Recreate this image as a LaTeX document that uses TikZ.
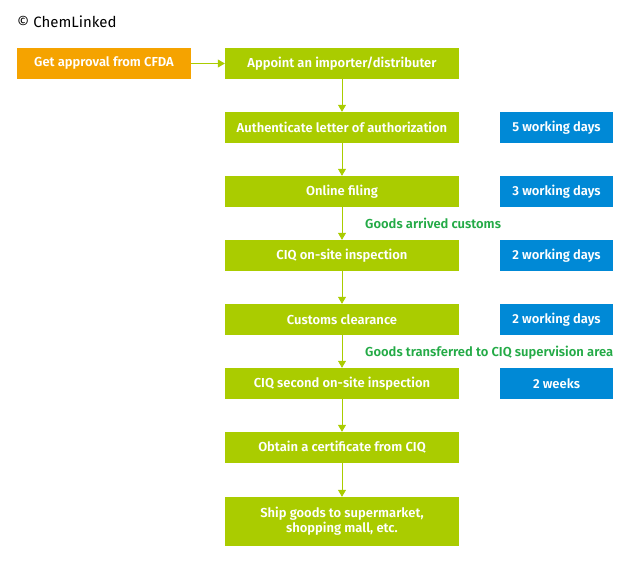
\documentclass[tikz,border=0pt]{standalone}
\usepackage{fontspec}
\setmainfont{Fira Sans}[BoldFont={Fira Sans SemiBold}]
\usetikzlibrary{arrows.meta}
\definecolor{lime}{HTML}{AACC00}
\definecolor{orng}{HTML}{F5A300}
\definecolor{blu}{HTML}{0089D6}
\definecolor{lbl}{HTML}{23AA46}
\begin{document}
\begin{tikzpicture}[x=1pt,y=-1pt,
  box/.style={fill=#1,draw=none,minimum height=31pt,inner sep=0pt,text=white,font=\fontsize{13}{15}\selectfont\bfseries,align=center},
  gbox/.style={box=lime,minimum width=234pt},
  bbox/.style={box=blu,minimum width=113pt},
  arr/.style={draw=lime,line width=0.8pt,-{Triangle[width=8pt,length=7pt]}},
  lab/.style={text=lbl,font=\fontsize{13}{15}\selectfont\bfseries,anchor=west,inner sep=0pt}]
\useasboundingbox (0,0) rectangle (635,570);
\node[anchor=west,inner sep=0pt,font=\fontsize{15}{17}\selectfont] (copy) at (17,22) {© ChemLinked};
\node[box=orng,minimum width=174pt] (cfda) at (104,63.5) {Get approval from CFDA};
\node[gbox] (g1) at (342,63.5) {Appoint an importer/distributer};
\node[gbox] (g2) at (342,127.5) {Authenticate letter of authorization};
\node[gbox] (g3) at (342,191.5) {Online filing};
\node[gbox] (g4) at (342,255.5) {CIQ on-site inspection};
\node[gbox] (g5) at (342,319.5) {Customs clearance};
\node[gbox] (g6) at (342,383.5) {CIQ second on-site inspection};
\node[gbox] (g7) at (342,447.5) {Obtain a certificate from CIQ};
\node[gbox,minimum height=49pt] (g8) at (342,521.5) {Ship goods to supermarket,\\shopping mall, etc.};
\node[bbox] (b2) at (556.5,127.5) {5 working days};
\node[bbox] (b3) at (556.5,191.5) {3 working days};
\node[bbox] (b4) at (556.5,255.5) {2 working days};
\node[bbox] (b5) at (556.5,319.5) {2 working days};
\node[bbox] (b6) at (556.5,383.5) {2 weeks};
\node[lab] (l1) at (365,223) {Goods arrived customs};
\node[lab] (l2) at (365,353) {Goods transferred to CIQ supervision area};
\draw[arr] (cfda) -- (g1);
\draw[arr] (g1) -- (g2);
\draw[arr] (g2) -- (g3);
\draw[arr] (g3) -- (g4);
\draw[arr] (g4) -- (g5);
\draw[arr] (g5) -- (g6);
\draw[arr] (g6) -- (g7);
\draw[arr] (g7) -- (g8);
\end{tikzpicture}
\end{document}
